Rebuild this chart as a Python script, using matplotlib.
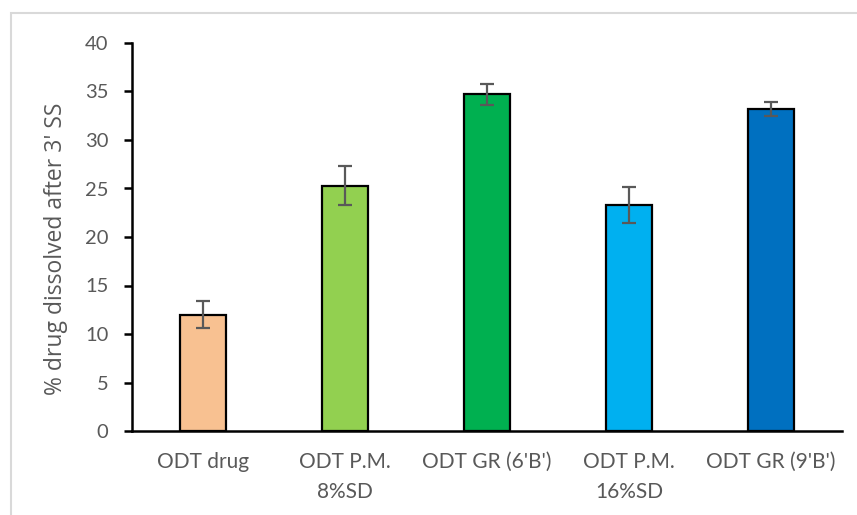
import numpy as np
import matplotlib.pyplot as plt
from matplotlib.patches import Rectangle

categories = ['ODT drug', 'ODT P.M.\n8%SD', "ODT GR (6'B')", 'ODT P.M.\n16%SD', "ODT GR (9'B')"]
values = [12.0, 25.3, 34.7, 23.3, 33.2]
errors = [1.4, 2.0, 1.1, 1.85, 0.7]
colors = ['#F8C191', '#92D050', '#00B050', '#00B0F0', '#0070C0']


def plot_data():
    fig = plt.figure(figsize=(8.57, 5.15), dpi=100)
    ax = fig.add_axes([132 / 857, 1 - 431 / 515, 710 / 857, 388 / 515])

    # light chart-area border like the spreadsheet export
    fig.patches.append(Rectangle((11 / 857, -0.1), 1.2, 1 - 13 / 515 + 0.1,
                                 transform=fig.transFigure, fill=False,
                                 edgecolor='#D9D9D9', lw=1.5))

    x = np.arange(len(categories))
    ax.bar(x, values, width=0.32, color=colors, edgecolor='black', lw=1.6,
           zorder=2)
    ax.errorbar(x, values, yerr=errors, fmt='none', ecolor='#595959',
                elinewidth=1.6, capsize=5, capthick=1.6, zorder=3)

    ax.set_xlim(-0.5, len(categories) - 0.5)
    ax.set_ylim(0, 40)
    ax.set_yticks(np.arange(0, 41, 5))
    ax.set_xticks(x)
    ax.set_xticklabels(categories, fontsize=15, color='#595959',
                       family='Lato', linespacing=1.65)
    for lab in ax.get_yticklabels():
        lab.set_fontsize(14.5)
        lab.set_color('#595959')
        lab.set_family('Lato')

    ax.tick_params(axis='x', length=0, pad=15)
    ax.tick_params(axis='y', length=6, width=1.8, pad=11)

    for side in ['top', 'right']:
        ax.spines[side].set_visible(False)
    for side in ['left', 'bottom']:
        ax.spines[side].set_linewidth(1.8)

    ax.set_ylabel("% drug dissolved after 3' SS", fontsize=16.5,
                  color='#595959', family='Open Sans')
    ax.yaxis.set_label_coords(-64 / 710, 0.47)

    fig.savefig('out.png', dpi=100)


def main():
    plot_data()


if __name__ == '__main__':
    main()
